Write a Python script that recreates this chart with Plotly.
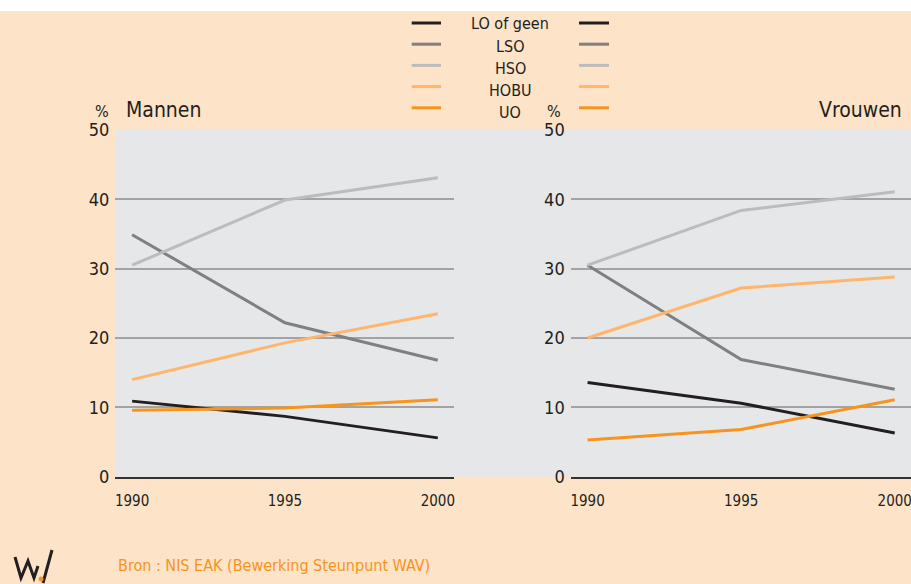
import plotly.graph_objects as go

W, H = 911, 584

years = [1990, 1995, 2000]
tick_labels = ["1990", "1995", "2000"]
series_names = ["LO of geen", "LSO", "HSO", "HOBU", "UO"]

# Mannen
men_lo = [10.9, 8.7, 5.6]
men_lso = [34.9, 22.2, 16.8]
men_hso = [30.5, 39.9, 43.1]
men_hobu = [14.0, 19.3, 23.5]
men_uo = [9.6, 9.9, 11.1]

# Vrouwen
women_lo = [13.6, 10.6, 6.3]
women_lso = [30.5, 16.9, 12.6]
women_hso = [30.5, 38.4, 41.1]
women_hobu = [20.0, 27.2, 28.8]
women_uo = [5.3, 6.8, 11.1]

colors = ["#231F20", "#808080", "#BCBCBC", "#FFB56B", "#F7941D"]
men = [men_lo, men_lso, men_hso, men_hobu, men_uo]
women = [women_lo, women_lso, women_hso, women_hobu, women_uo]

FONT = "Liberation Sans Narrow, Arial Narrow, DejaVu Sans Condensed, sans-serif"
PEACH = "#FDE3C8"
PLOTBG = "#E6E7E9"
GRID = "#A3A3A3"
TXT = "#231F20"


def px(x):
    return x / W


def py(y):
    return 1 - y / H


fig = go.Figure()
for name, col, vals in zip(series_names, colors, men):
    fig.add_trace(go.Scatter(x=years, y=vals, mode="lines", name=name,
                             line=dict(color=col, width=3), xaxis="x", yaxis="y",
                             showlegend=False))
for name, col, vals in zip(series_names, colors, women):
    fig.add_trace(go.Scatter(x=years, y=vals, mode="lines", name=name,
                             line=dict(color=col, width=3), xaxis="x2", yaxis="y2",
                             showlegend=False))

y0, y1 = py(476.7), py(130)
xr = [1989.45, 2000.53]
common_x = dict(range=xr, tickvals=years, ticktext=tick_labels, showgrid=False,
                zeroline=False, showline=True, linecolor="#333333", linewidth=2,
                ticks="", ticklabelstandoff=9, automargin=False,
                ticklabeloverflow="allow",
                tickfont=dict(family=FONT, size=15, color=TXT))
common_y = dict(range=[0, 50], tickvals=[0, 10, 20, 30, 40, 50], showgrid=True,
                gridcolor=GRID, gridwidth=1.5, zeroline=False, showline=False,
                ticks="", ticklabelstandoff=5, automargin=False,
                ticklabeloverflow="allow",
                tickfont=dict(family=FONT, size=18, color=TXT))

fig.update_layout(
    width=W, height=H,
    margin=dict(l=0, r=0, t=0, b=0, autoexpand=False),
    paper_bgcolor=PEACH,
    plot_bgcolor=PLOTBG,
    xaxis=dict(domain=[px(115.3), px(454)], anchor="y", **common_x),
    yaxis=dict(domain=[y0, y1], anchor="x", **common_y),
    xaxis2=dict(domain=[px(570.7), 1.0], anchor="y2", **common_x),
    yaxis2=dict(domain=[y0, y1], anchor="x2", **common_y),
    font=dict(family=FONT, color=TXT),
)

shapes = [
    # white strip at the top
    dict(type="rect", xref="paper", yref="paper", x0=0, x1=1, y0=py(11), y1=1,
         fillcolor="white", line=dict(width=0), layer="below"),
    # grey band between panels
    dict(type="rect", xref="paper", yref="paper", x0=px(454), x1=px(570.7),
         y0=y0, y1=y1, fillcolor=PLOTBG, line=dict(width=0), layer="below"),
]
annotations = []

# custom centered legend with lines on both sides
for i, (name, col) in enumerate(zip(series_names, colors)):
    ly = 23 + 21.2 * i
    ty = 24 + 22.2 * i
    for xa, xb in [(411.7, 441), (579, 609)]:
        shapes.append(dict(type="line", xref="paper", yref="paper",
                           x0=px(xa), x1=px(xb), y0=py(ly), y1=py(ly),
                           line=dict(color=col, width=3)))
    annotations.append(dict(text=name, xref="paper", yref="paper", x=px(510), y=py(ty),
                            xanchor="center", yanchor="middle", showarrow=False,
                            font=dict(family=FONT, size=16, color=TXT)))

# panel titles
annotations += [
    dict(text="%", xref="paper", yref="paper", x=px(102), y=py(111), xanchor="center",
         yanchor="middle", showarrow=False, font=dict(family=FONT, size=16, color=TXT)),
    dict(text="Mannen", xref="paper", yref="paper", x=px(124), y=py(110), xanchor="left",
         yanchor="middle", showarrow=False, font=dict(family=FONT, size=21, color=TXT)),
    dict(text="%", xref="paper", yref="paper", x=px(554), y=py(111), xanchor="center",
         yanchor="middle", showarrow=False, font=dict(family=FONT, size=16, color=TXT)),
    dict(text="Vrouwen", xref="paper", yref="paper", x=px(904), y=py(110), xanchor="right",
         yanchor="middle", showarrow=False, font=dict(family=FONT, size=21, color=TXT)),
    dict(text="Bron : NIS EAK (Bewerking Steunpunt WAV)", xref="paper", yref="paper",
         x=px(116), y=py(565), xanchor="left", yanchor="middle", showarrow=False,
         font=dict(family=FONT, size=16, color="#F7941D")),
]

# logo
def pth(pts):
    return "M " + " L ".join(f"{px(a)},{py(b)}" for a, b in pts)

shapes.append(dict(type="path", xref="paper", yref="paper",
                   path=pth([(15, 557), (21, 578), (28, 561), (34, 578), (38, 566)]),
                   line=dict(color="#231F20", width=3)))
shapes.append(dict(type="path", xref="paper", yref="paper",
                   path=pth([(43, 583), (52, 550)]),
                   line=dict(color="#231F20", width=3)))
shapes.append(dict(type="circle", xref="paper", yref="paper",
                   x0=px(38.5), x1=px(43.5), y0=py(581.5), y1=py(576.5),
                   fillcolor="#F7941D", line=dict(width=0)))

fig.update_layout(shapes=shapes, annotations=annotations)
fig.write_html("out.html",
               config={"displayModeBar": False},
               post_script="document.body.style.margin='0px';"
                           "document.body.style.padding='0px';"
                           "document.body.style.overflow='hidden';")
